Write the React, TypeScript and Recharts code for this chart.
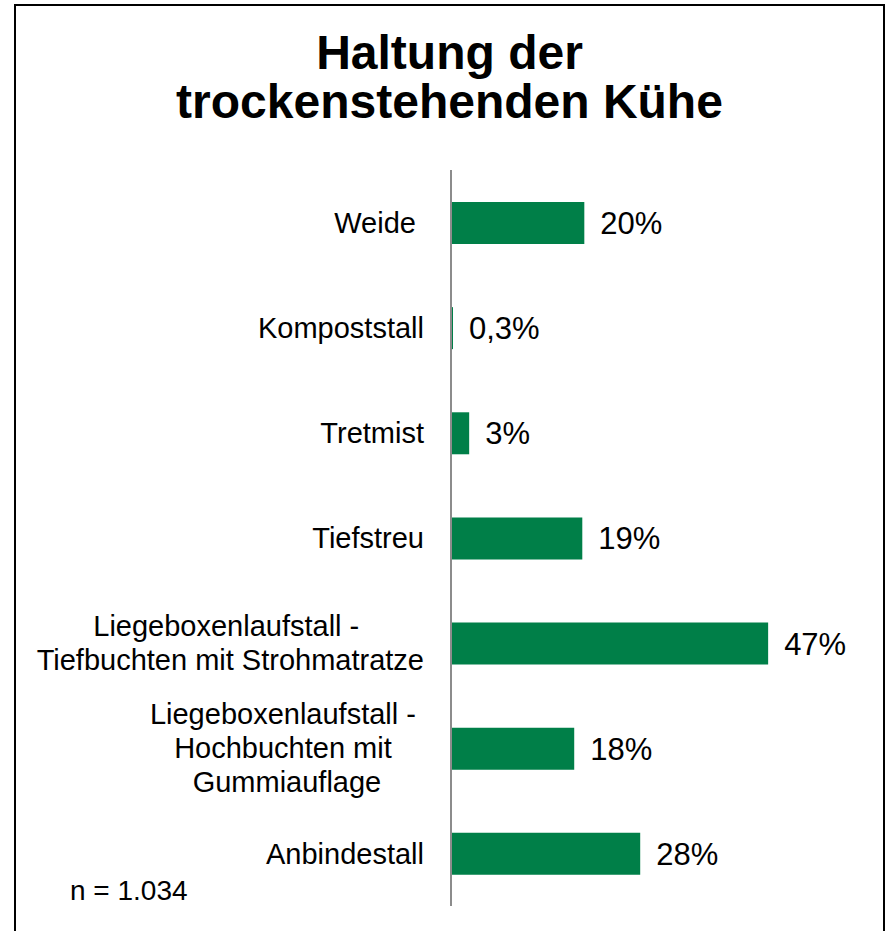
import { Bar, BarChart, LabelList, XAxis, YAxis } from "recharts";

const FONT = '"Liberation Sans", Arial, sans-serif';
const TICK_SIZE = 29;

// Excel wrap keeps trailing spaces, which shift the centred lines
const categories = [
  "Weide ",
  "Kompoststall",
  "Tretmist",
  "Tiefstreu",
  "Liegeboxenlaufstall - \nTiefbuchten mit Strohmatratze",
  "Liegeboxenlaufstall - \nHochbuchten mit \nGummiauflage",
  "Anbindestall",
];
const shares = [19.8, 0.3, 2.7, 19.5, 47.1, 18.3, 28.1];
const shareLabels = ["20%", "0,3%", "3%", "19%", "47%", "18%", "28%"];
const titleLines = ["Haltung der", "trockenstehenden Kühe"];
const sampleNote = "n = 1.034";

const data = categories.map((category, i) => ({
  category,
  value: shares[i],
  label: shareLabels[i],
}));

let ctx: CanvasRenderingContext2D | null = null;
function textWidth(s: string) {
  if (!ctx) ctx = document.createElement("canvas").getContext("2d");
  if (!ctx) return s.length * 14;
  ctx.font = `${TICK_SIZE}px ${FONT}`;
  return ctx.measureText(s).width;
}

function CategoryTick({ x, y, payload }: any) {
  const lines = String(payload.value).split("\n");
  const lineHeight = 34;
  const textStyle = { whiteSpace: "pre" as const };
  if (lines.length === 1) {
    return (
      <text x={x} y={y} dy="0.35em" textAnchor="end" fontSize={TICK_SIZE} fontFamily={FONT} fill="#000" style={textStyle} xmlSpace="preserve">
        {lines[0]}
      </text>
    );
  }
  const widest = Math.max(...lines.map(textWidth));
  const cx = x - widest / 2;
  const top = y - ((lines.length - 1) * lineHeight) / 2;
  return (
    <text textAnchor="middle" fontSize={TICK_SIZE} fontFamily={FONT} fill="#000" style={textStyle} xmlSpace="preserve">
      {lines.map((line, i) => (
        <tspan key={i} x={cx} y={top + i * lineHeight} dy="0.35em">
          {line}
        </tspan>
      ))}
    </text>
  );
}

export default function App() {
  return (
    <div style={{ position: "fixed", left: 0, top: 0, width: 885, height: 931, background: "#fff", overflow: "hidden", fontFamily: FONT }}>
      <div style={{ position: "absolute", left: 14, top: 4, width: 871, height: 1000, border: "2px solid #000", boxSizing: "border-box" }} />
      <div style={{ position: "absolute", left: 14, top: 28, width: 871, textAlign: "center", fontSize: 48, fontWeight: "bold", lineHeight: "49px", color: "#000" }}>
        {titleLines.map((t) => (
          <div key={t}>{t}</div>
        ))}
      </div>
      <div style={{ position: "absolute", left: 70, top: 877, fontSize: 28, lineHeight: "28px", color: "#000" }}>{sampleNote}</div>
      <div style={{ position: "absolute", left: 0, top: 0 }}>
        <BarChart width={885} height={931} layout="vertical" data={data} margin={{ top: 170, right: 30, bottom: 25, left: 0 }}>
          <XAxis type="number" domain={[0, 60]} hide />
          <YAxis
            type="category"
            dataKey="category"
            width={451}
            interval={0}
            tickLine={false}
            tickSize={0}
            tickMargin={27}
            axisLine={{ stroke: "#8c8c8c", strokeWidth: 2 }}
            tick={<CategoryTick />}
          />
          <Bar dataKey="value" fill="#007f48" barSize={42} isAnimationActive={false}>
            <LabelList dataKey="label" position="right" offset={16} fontSize={31} fontFamily={FONT} fill="#000" />
          </Bar>
        </BarChart>
      </div>
    </div>
  );
}
